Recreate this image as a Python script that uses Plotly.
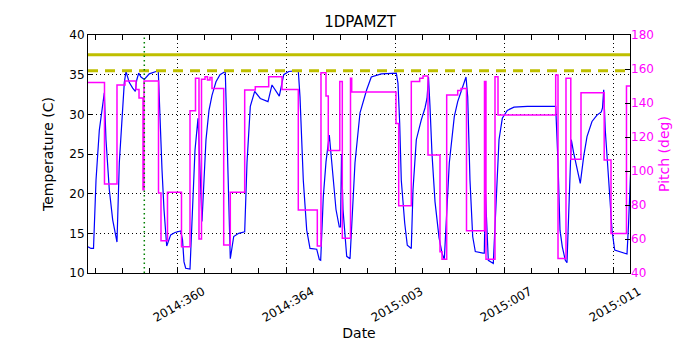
import numpy as np
import pandas as pd
import plotly.graph_objects as go

# day of year (2014 numbering, continuing past 365 into 2015)
temp_doy = [356.734, 356.844, 356.936, 357.028, 357.149, 357.273, 357.332, 357.394, 357.516, 357.640,
            357.798, 357.883, 357.982, 358.066, 358.128, 358.250, 358.374, 358.470, 358.521, 358.594,
            358.679, 358.800, 358.983, 359.229, 359.314, 359.376, 359.450, 359.523, 359.622, 359.769,
            359.927, 360.136, 360.202, 360.257, 360.319, 360.477, 360.569, 360.661, 360.771, 360.844,
            360.917, 360.991, 361.064, 361.174, 361.284, 361.431, 361.578, 361.772, 361.817, 361.872,
            361.956, 362.081, 362.264, 362.484, 362.569, 362.690, 362.851, 363.057, 363.339, 363.486,
            363.754, 363.916, 364.099, 364.451, 364.514, 364.635, 364.760, 364.881, 365.127, 365.222,
            365.273, 365.369, 365.468, 365.589, 365.736, 365.835, 365.956, 366.000, 366.037, 366.092,
            366.228, 366.349, 366.532, 366.716, 366.961, 367.130, 367.497, 368.048, 368.110, 368.172,
            368.231, 368.356, 368.451, 368.598, 368.661, 368.782, 368.965, 369.101, 369.174, 369.229,
            369.284, 369.358, 369.468, 369.615, 369.725, 369.809, 369.993, 370.176, 370.301, 370.484,
            370.606, 370.668, 370.752, 370.851, 370.947, 371.229, 371.277, 371.314, 371.424, 371.607,
            371.732, 371.817, 371.938, 372.121, 372.367, 372.855, 373.897, 373.982, 374.055, 374.140,
            374.250, 374.312, 374.396, 374.470, 374.558, 374.679, 374.800, 374.925, 375.046, 375.229,
            375.413, 375.571, 375.615, 375.659, 375.717, 375.842, 375.963, 376.062, 376.514, 376.569,
            376.624, 376.661]
temp_c = [13.3, 13.1, 13.1, 21.7, 28.0, 31.4, 32.7, 26.8, 20.5, 16.7,
          13.9, 23.9, 30.2, 34.0, 35.4, 34.0, 33.3, 32.9, 34.3, 35.2,
          34.7, 34.4, 35.1, 35.4, 35.4, 29.3, 23.0, 18.0, 13.4, 14.8,
          15.1, 15.3, 14.2, 11.4, 10.6, 10.5, 19.2, 25.5, 29.5, 21.7,
          16.5, 21.7, 26.8, 30.5, 32.4, 34.1, 35.0, 35.4, 29.3, 20.5,
          11.8, 14.6, 15.0, 15.2, 23.9, 31.0, 32.9, 32.0, 31.6, 33.7,
          32.3, 35.0, 35.4, 35.5, 32.2, 21.7, 15.4, 13.1, 13.0, 11.7,
          11.6, 19.6, 24.0, 27.4, 21.7, 18.0, 15.8, 15.8, 25.0, 18.0,
          12.1, 11.8, 23.9, 30.2, 33.1, 34.7, 35.1, 35.2, 33.9, 28.9,
          21.7, 16.3, 13.5, 13.1, 20.5, 26.8, 29.3, 30.8, 32.0, 34.7,
          31.0, 25.0, 19.0, 14.5, 12.5, 11.7, 23.9, 29.7, 31.6, 33.3,
          34.7, 32.2, 21.7, 14.6, 12.7, 12.5, 12.5, 20.5, 11.6, 11.2,
          19.6, 26.8, 29.5, 30.5, 30.9, 31.0, 31.0, 23.9, 15.4, 13.3,
          11.6, 11.3, 19.6, 26.8, 25.1, 23.0, 21.3, 24.7, 27.2, 29.1,
          29.9, 30.3, 30.8, 33.1, 28.0, 21.7, 15.4, 12.9, 12.4, 16.0,
          21.0, 24.0]

pitch_doy = [356.734, 357.339, 357.798, 358.092, 358.495, 358.606, 358.752, 358.789, 359.321, 359.413,
             359.651, 360.165, 360.477, 360.679, 360.807, 360.899, 361.028, 361.119, 361.211, 361.284,
             361.714, 361.956, 362.484, 362.873, 363.365, 363.853, 364.451, 365.149, 365.284, 365.468,
             365.552, 365.974, 366.066, 366.367, 366.411, 368.037, 368.136, 368.598, 368.906, 369.028,
             369.211, 369.651, 369.725, 369.897, 370.301, 370.422, 370.624, 371.284, 371.339, 371.670,
             371.780, 373.897, 373.982, 374.275, 374.451, 374.826, 375.677, 375.927, 376.495, 376.661]
pitch_deg = [152, 92.3, 150.6, 153, 148, 143, 89, 153, 87, 59,
             87.5, 55.5, 135.5, 154.5, 60, 154, 155.5, 153.5, 155, 148.5,
             56.5, 87.5, 147.6, 149.6, 155.5, 148, 77, 55.9, 157.8, 144.1,
             112, 152.6, 60.4, 154.5, 146.5, 128, 79.6, 152.6, 154.5, 155.9,
             109.4, 52.5, 48.1, 144.7, 147.3, 148.6, 64.9, 152.6, 48.1, 155.5,
             133, 156.5, 48.6, 154.5, 106.9, 146.1, 106.5, 63.3, 150, 150]

planning_limit = 37.5
yellow_limit = 35.5
marker_doy = 358.8
x_range_doy = [356.734, 376.624]
tick_doy = [360, 364, 368, 372, 376]


def doy_to_date(d):
    return pd.Timestamp("2014-01-01") + pd.to_timedelta(np.asarray(d, dtype=float) - 1, unit="D")


font = dict(family="DejaVu Sans", size=12, color="black")

fig = go.Figure()
fig.add_trace(go.Scatter(x=doy_to_date(temp_doy), y=temp_c, mode="lines",
                         line=dict(color="#0000ff", width=1.2), yaxis="y"))
fig.add_trace(go.Scatter(x=doy_to_date(pitch_doy), y=pitch_deg, mode="lines",
                         line=dict(color="#ff00ff", width=1.5, shape="hv"), yaxis="y2"))

fig.add_hline(y=planning_limit, line=dict(color="#bfbf00", width=3), layer="above")
fig.add_hline(y=yellow_limit, line=dict(color="#bfbf00", width=3, dash="10px,7px"), layer="above")
fig.add_shape(type="line", xref="x", yref="paper",
              x0=doy_to_date([marker_doy])[0], x1=doy_to_date([marker_doy])[0], y0=0, y1=1,
              line=dict(color="#008000", width=1.5, dash="1.5px,3px"))

# the page body adds an 8px offset, so margins are trimmed to match
xr = doy_to_date(x_range_doy)
fig.update_layout(
    width=700, height=350,
    margin=dict(l=80, r=78, t=27, b=85),
    paper_bgcolor="white", plot_bgcolor="white",
    showlegend=False,
    font=font,
    title=dict(text="1DPAMZT", x=0.503, xanchor="center", y=0.96, yanchor="middle",
               font=dict(family="DejaVu Sans", size=15, color="black")),
    xaxis=dict(range=[xr[0], xr[1]], tickvals=doy_to_date(tick_doy), tickformat="%Y:%j",
               tickangle=-30, ticks="inside", ticklen=5, tickcolor="black",
               ticklabelshift=26, ticklabelstandoff=6,
               showline=True, linecolor="black", linewidth=1, mirror="allticks",
               showgrid=True, gridcolor="black", gridwidth=1, griddash="1px,3px",
               minor=dict(ticks="inside", ticklen=3, tickcolor="black",
                          dtick=86400000, tick0=doy_to_date([360])[0], showgrid=False),
               title=dict(text="Date", standoff=0), zeroline=False),
    yaxis=dict(range=[10, 40], dtick=5, ticks="inside", ticklen=5, tickcolor="black",
               showline=True, linecolor="black", linewidth=1, mirror=True,
               showgrid=True, gridcolor="black", gridwidth=1, griddash="1px,3px",
               title=dict(text="Temperature (C)", standoff=12), zeroline=False),
    yaxis2=dict(range=[40, 180], dtick=20, overlaying="y", side="right",
                ticks="inside", ticklen=5, tickcolor="black", showgrid=False,
                tickfont=dict(color="#ff00ff"), zeroline=False,
                title=dict(text="Pitch (deg)", font=dict(color="#ff00ff"), standoff=6)),
)

fig.write_html("out.html")
